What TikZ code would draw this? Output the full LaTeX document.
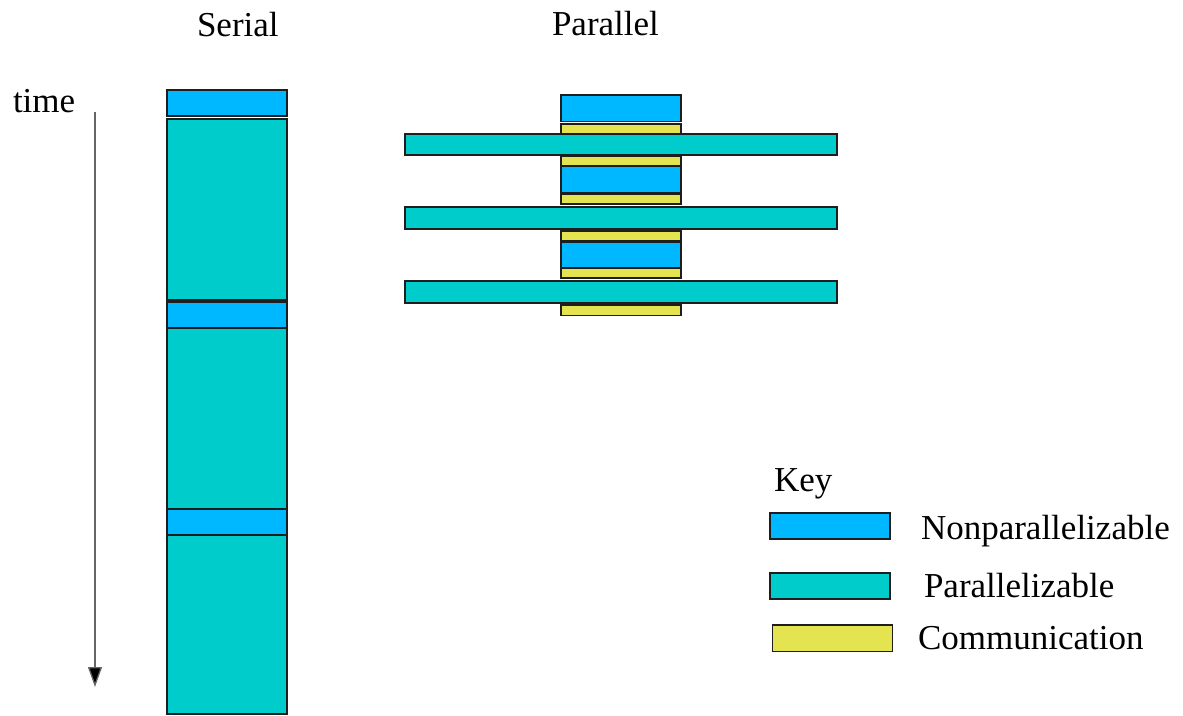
\documentclass[tikz,border=0pt]{standalone}
\usepackage{fontspec}
\setmainfont{Liberation Serif}
\usetikzlibrary{arrows.meta}
\definecolor{nonpar}{RGB}{0,184,255}
\definecolor{par}{RGB}{0,204,204}
\definecolor{comm}{RGB}{228,228,80}
\definecolor{edge}{RGB}{30,30,30}
\tikzset{
  blk/.style={draw=edge, line width=1.3pt, inner sep=0pt, outer sep=0pt,
              anchor=north west, minimum width=120pt},
  npbox/.style={blk, fill=nonpar, minimum height=26.5pt},
  pbox/.style={blk, fill=par},
  cbox/.style={blk, fill=comm, minimum height=10pt},
  wide/.style={pbox, minimum width=432pt, minimum height=22pt},
  txt/.style={inner sep=0pt, outer sep=0pt, anchor=base west,
              font=\fontsize{35}{40}\selectfont},
}
\begin{document}
\begin{tikzpicture}[x=1pt, y=-1pt]
\useasboundingbox (0,0) rectangle (1183,715);

% headings
\node[txt] (serialT) at (197,36) {Serial};
\node[txt] (parT) at (552,35) {Parallel};
\node[txt] (timeT) at (13,112) {time};

% time axis
\coordinate (tTop) at (95,112);
\coordinate (tEnd) at (95,687);
\draw[line width=1.3pt, draw=black!60, -{Triangle[length=20pt, width=14pt, fill=black]}] (tTop) -- (tEnd);

% serial execution
\node[npbox, minimum height=26pt] (s1) at (167,90) {};
\node[pbox, minimum height=181pt] (s2) at (167,119) {};
\node[npbox, minimum height=26pt] (s3) at (167,302) {};
\node[pbox, minimum height=181pt] (s4) at (167,328) {};
\node[npbox, minimum height=26pt] (s5) at (167,509) {};
\node[pbox, minimum height=179pt] (s6) at (167,535) {};

% parallel execution
\node[npbox] (p1) at (561,95) {};
\node[cbox] (c1) at (561,124) {};
\node[wide, minimum height=21pt] (w1) at (405,134) {};
\node[cbox] (c2) at (561,156) {};
\node[npbox] (p2) at (561,166) {};
\node[cbox] (c3) at (561,194) {};
\node[wide] (w2) at (405,207) {};
\node[cbox] (c4) at (561,231) {};
\node[npbox] (p3) at (561,242) {};
\node[cbox] (c5) at (561,268) {};
\node[wide] (w3) at (405,281) {};
\node[cbox, minimum height=10.5pt] (c6) at (561,305) {};

% key
\node[txt] (keyT) at (774,491) {Key};
\node[npbox, minimum height=26pt] (k1) at (770,513) {};
\node[pbox, minimum height=26pt] (k2) at (770,573) {};
\node[cbox, minimum height=26.5pt] (k3) at (772.5,625) {};
\node[txt] (k1T) at (921,539) {Nonparallelizable};
\node[txt] (k2T) at (924,597) {Parallelizable};
\node[txt] (k3T) at (918,649) {Communication};
\end{tikzpicture}
\end{document}
